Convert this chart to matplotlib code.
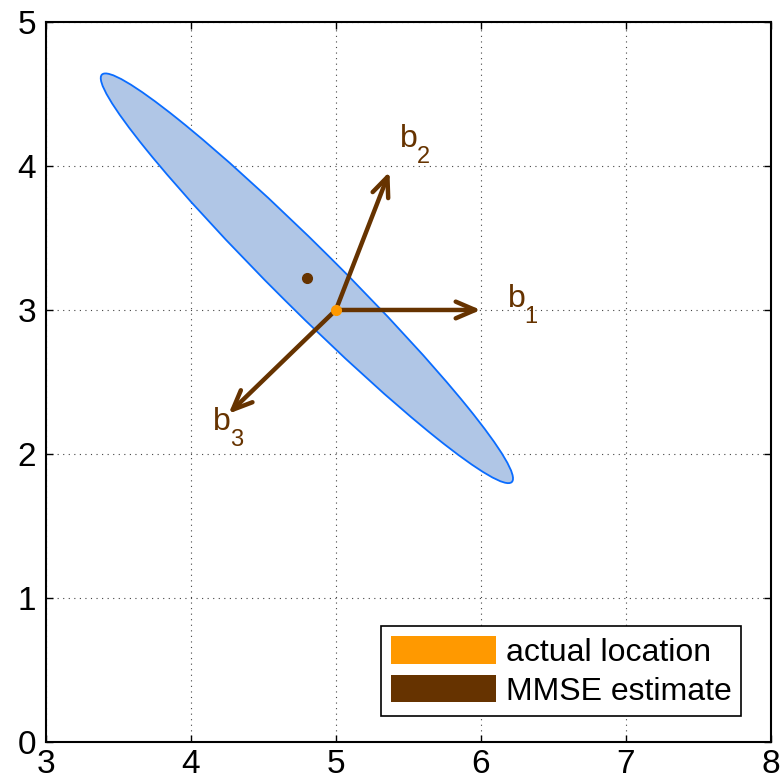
import numpy as np
import matplotlib.pyplot as plt
from matplotlib.patches import Ellipse, Patch

plt.rcParams['font.family'] = ['Liberation Sans', 'DejaVu Sans']

# data
actual = (5.0, 3.0)
mmse = (4.8, 3.22)
ell_center = (4.8, 3.22)
ell_major = 4.0      # full length
ell_minor = 0.43
ell_angle = -45.0
b_tips = [(6.0, 3.0), (5.37, 3.96), (4.26, 2.28)]
b_subs = ['1', '2', '3']
b_label_pos = [(6.186, 3.02), (5.44, 4.13), (4.15, 2.167)]

brown = '#663300'
orange = '#ff9900'

fig = plt.figure(figsize=(7.8, 7.83), dpi=100)
ax = fig.add_axes([0.059, 0.0523, 0.929, 0.9197])

ell = Ellipse(ell_center, ell_major, ell_minor, angle=ell_angle,
              facecolor='#b0c6e6', edgecolor='#0a6cff', linewidth=1.3, zorder=2)
ax.add_patch(ell)

for tip, sub, lp in zip(b_tips, b_subs, b_label_pos):
    ax.annotate('', xy=tip, xytext=actual,
                arrowprops=dict(arrowstyle='->,head_length=1.4,head_width=0.6',
                                color=brown, lw=3.2, shrinkA=0, shrinkB=0),
                zorder=3)
    ax.text(lp[0], lp[1], 'b', color=brown, fontsize=23, ha='left', va='baseline')
    ax.annotate(sub, xy=lp, xytext=(12.2, -11.5), textcoords='offset points',
                color=brown, fontsize=17, ha='left', va='baseline')

ax.plot(*mmse, 'o', color=brown, markersize=7, zorder=4)
ax.plot(*actual, 'o', color=orange, markersize=7, zorder=5)

ax.set_xlim(3, 8)
ax.set_ylim(0, 5)
ax.set_xticks(np.arange(3, 9, 1))
ax.set_yticks(np.arange(0, 6, 1))
ax.tick_params(direction='in', labelsize=24, length=5, width=1, top=True, right=True)
ax.tick_params(axis='x', pad=5)
ax.tick_params(axis='y', pad=7)
ax.grid(True, linestyle=(0, (1, 4)), color='#444444', linewidth=0.8)
for s in ax.spines.values():
    s.set_linewidth(1.5)

handles = [Patch(facecolor=orange, edgecolor='none'), Patch(facecolor=brown, edgecolor='none')]
leg = ax.legend(handles, ['actual location', 'MMSE estimate'], loc='lower right',
                bbox_to_anchor=(0.959, 0.036), borderaxespad=0, fontsize=23,
                handlelength=3.3, handleheight=0.95, handletextpad=0.3,
                labelspacing=0.22, fancybox=False, framealpha=1, edgecolor='black',
                borderpad=0.3)
leg.get_frame().set_linewidth(1.2)

plt.savefig('out.png', dpi=100)
